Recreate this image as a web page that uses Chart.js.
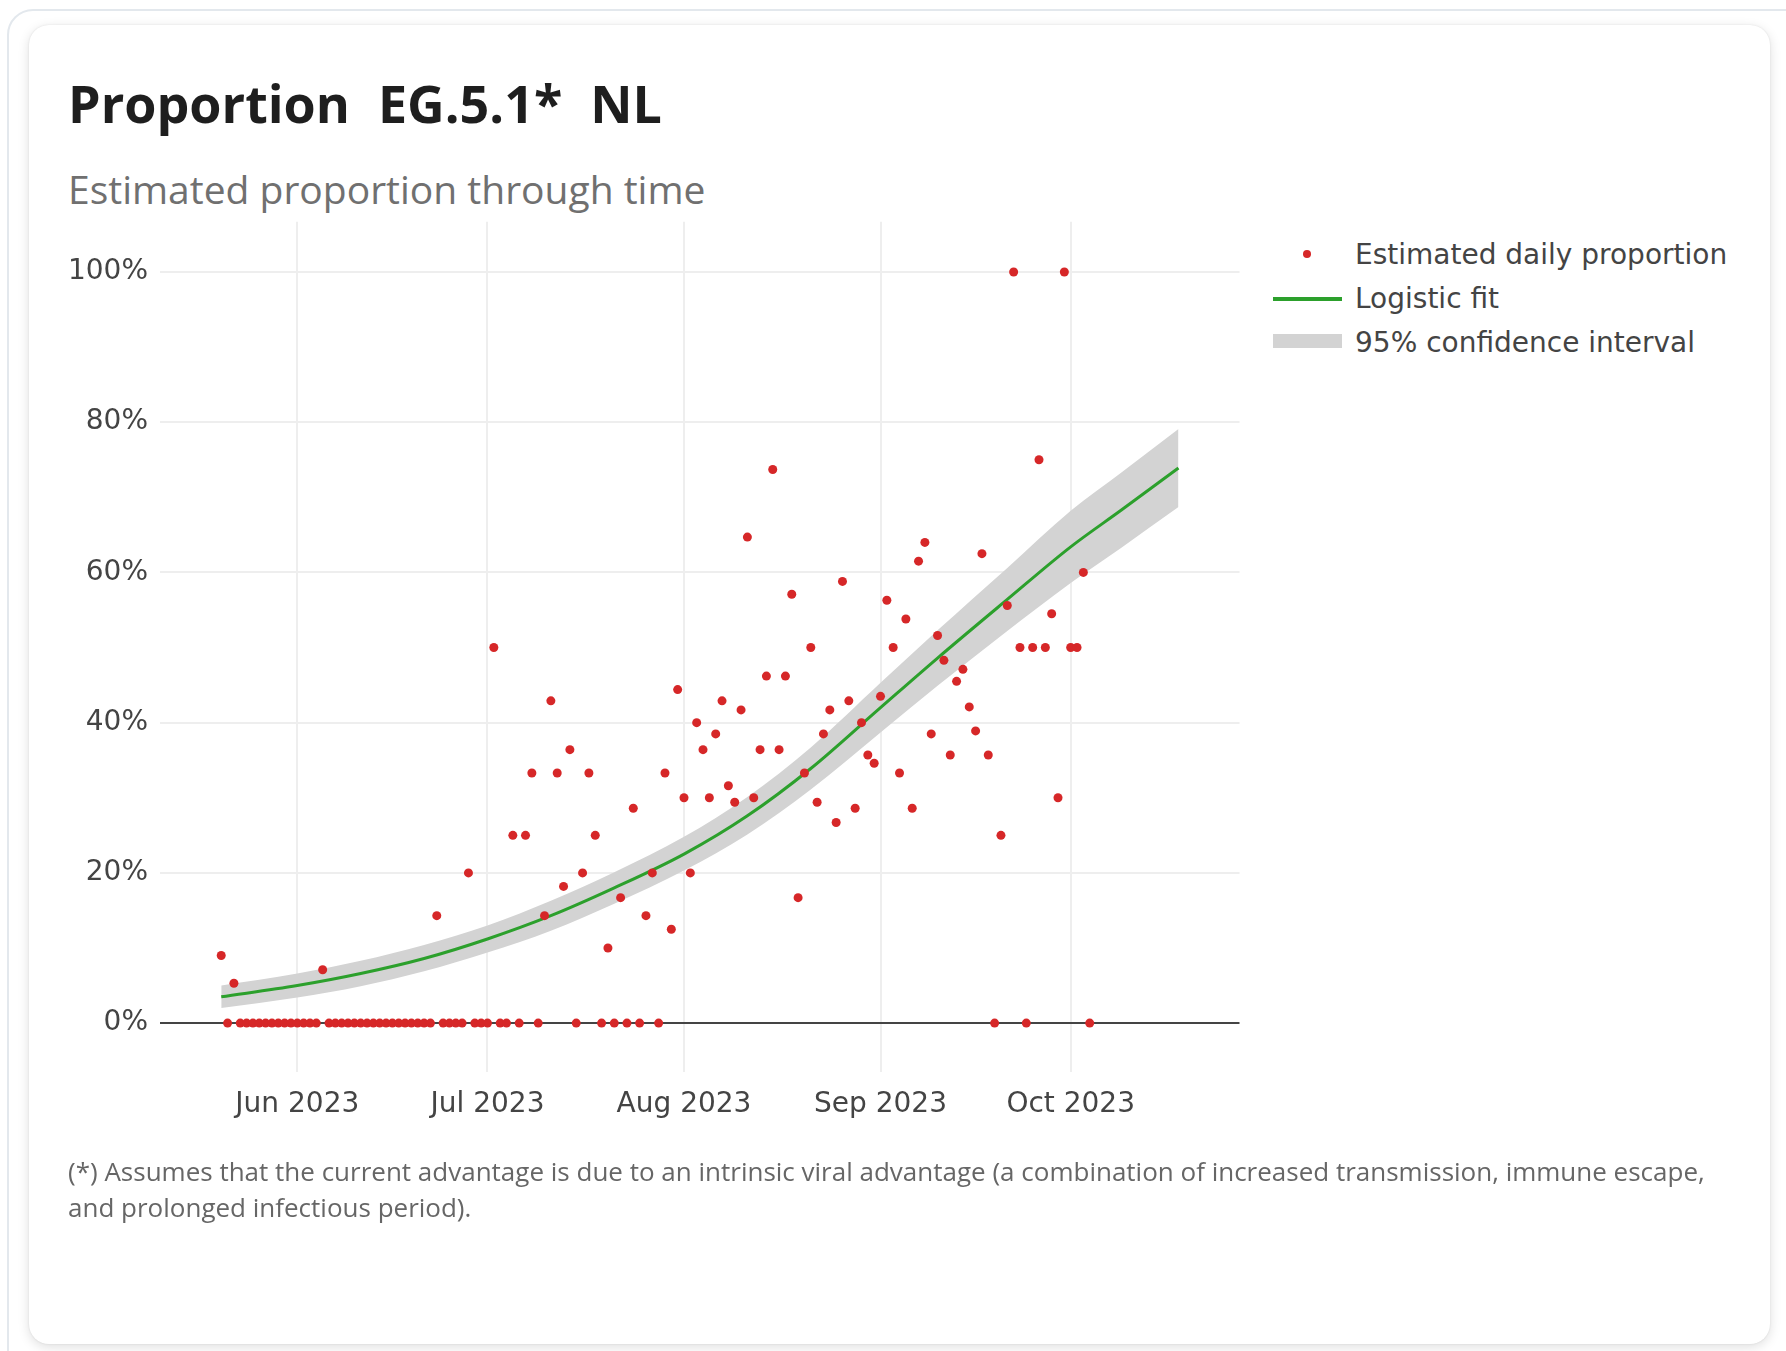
<!DOCTYPE html>
<html>
<head>
<meta charset="utf-8">
<title>Proportion EG.5.1* NL</title>
<script src="https://cdn.jsdelivr.net/npm/chart.js@4.4.0/dist/chart.umd.min.js"></script>
<style>
  html, body { margin: 0; padding: 0; background: #fff; }
  body { width: 1786px; height: 1351px; position: relative; overflow: hidden; font-family: "Open Sans", "Noto Sans", sans-serif; }
  .outer { position: absolute; left: 7px; top: 9px; width: 1830px; height: 1420px; border: 2px solid #e3e8ed; border-radius: 26px; background: #fff; }
  .card { position: absolute; left: 29px; top: 25px; width: 1741px; height: 1319px; border-radius: 20px; background: #fff;
          box-shadow: 0 0 2px rgba(0,0,0,0.10), 0 3px 12px rgba(0,0,0,0.13); }
  .title { position: absolute; left: 68px; top: 77px; font-size: 52px; line-height: 52px; font-weight: 700; color: #1e1e1e; white-space: nowrap; }
  .title span + span { margin-left: 28px; }
  .subtitle { position: absolute; left: 68px; top: 169px; font-size: 39px; line-height: 39px; color: #707070; white-space: nowrap; }
  .note { position: absolute; left: 68px; top: 1153px; font-size: 26px; line-height: 36px; color: #666; white-space: nowrap; }
  #chartBox { position: absolute; left: 0; top: 193px; width: 1260px; height: 967px; }
  .legend { position: absolute; left: 1268px; top: 241px; font-family: "DejaVu Sans", Verdana, sans-serif; font-size: 28px; color: #444; }
  .legend .row { position: relative; height: 44px; line-height: 28px; padding-left: 87px; white-space: nowrap; }
  .legend .mark { position: absolute; left: 5px; }
</style>
</head>
<body>
<div class="outer"></div>
<div class="card"></div>
<div class="title"><span>Proportion</span><span>EG.5.1*</span><span>NL</span></div>
<div class="subtitle">Estimated proportion through time</div>
<div id="chartBox"><canvas id="propChart"></canvas></div>
<div class="legend" id="legend"></div>
<div class="note">(*) Assumes that the current advantage is due to an intrinsic viral advantage (a combination of increased transmission, immune escape,<br>and prolonged infectious period).</div>

<script>
// daily observations, one per day starting at startDate (percent)
const startDate = "2023-05-20";
const dailyProportion = [
  9.0, 0, 5.3, 0, 0, 0, 0, 0, 0, 0, 0, 0, 0, 0, 0,          // May 20 - Jun 3
  0, 7.1, 0, 0, 0, 0, 0, 0, 0, 0, 0, 0, 0, 0, 0, 0,         // Jun 4 - Jun 19
  0, 0, 0, 14.3, 0, 0, 0, 0, 20, 0, 0, 0,                   // Jun 20 - Jul 1
  50, 0, 0, 25, 0, 25, 33.3, 0, 14.3, 42.9, 33.3, 18.2,     // Jul 2 - Jul 13
  36.4, 0, 20, 33.3, 25, 0, 10, 0, 16.7, 0, 28.6, 0,        // Jul 14 - Jul 25
  14.3, 20, 0, 33.3, 12.5, 44.4,                            // Jul 26 - Jul 31
  30, 20, 40, 36.4, 30, 38.5, 42.9, 31.6, 29.4, 41.7,       // Aug 1 - Aug 10
  64.7, 30, 36.4, 46.2, 73.7, 36.4, 46.2, 57.1, 16.7, 33.3, // Aug 11 - Aug 20
  50, 29.4, 38.5, 41.7, 26.7, 58.8, 42.9, 28.6, 40, 35.7,   // Aug 21 - Aug 30
  34.6,                                                     // Aug 31
  43.5, 56.3, 50, 33.3, 53.8, 28.6, 61.5, 64, 38.5, 51.6,   // Sep 1 - Sep 10
  48.3, 35.7, 45.5, 47.1, 42.1, 38.9, 62.5, 35.7, 0, 25,    // Sep 11 - Sep 20
  55.6, 100, 50, 0, 50, 75, 50, 54.5, 30, 100,              // Sep 21 - Sep 30
  50, 50, 60, 0                                             // Oct 1 - Oct 4
];

// logistic fit with its 95% confidence band (percent)
const fitDates = ["2023-05-20", "2023-06-01", "2023-06-11", "2023-06-21", "2023-07-01", "2023-07-11", "2023-07-21", "2023-08-01",
                  "2023-08-11", "2023-08-21", "2023-09-01", "2023-09-10", "2023-09-21", "2023-10-01", "2023-10-09", "2023-10-18"];
const fitValues = [3.5, 5.0, 6.6, 8.6, 11.2, 14.3, 18.0, 22.5, 27.6, 33.9, 42.0, 48.6, 56.4, 63.4, 68.3, 73.9];
const fitLower  = [2.0, 3.4, 4.9, 6.9, 9.4, 12.3, 15.9, 20.3, 25.1, 31.1, 38.7, 44.9, 52.2, 58.6, 63.3, 68.7];
const fitUpper  = [5.0, 6.6, 8.3, 10.4, 13.0, 16.3, 20.1, 24.8, 30.1, 36.7, 45.3, 52.3, 60.6, 68.2, 73.3, 79.1];

const monthTicks = ["2023-06-01", "2023-07-01", "2023-08-01", "2023-09-01", "2023-10-01"];
const monthLabels = ["Jun 2023", "Jul 2023", "Aug 2023", "Sep 2023", "Oct 2023"];
const yTicks = [0, 20, 40, 60, 80, 100];

const DAY = 86400000;
const toDay = s => Date.parse(s + "T00:00:00Z") / DAY;

const firstDay = toDay(startDate);
const dailyPoints = dailyProportion.map((v, i) => ({ x: firstDay + i, y: v }));
const fitPoints = fitDates.map((d, i) => ({ x: toDay(d), y: fitValues[i] }));
const lowerPoints = fitDates.map((d, i) => ({ x: toDay(d), y: fitLower[i] }));
const upperPoints = fitDates.map((d, i) => ({ x: toDay(d), y: fitUpper[i] }));

const tickFont = { family: "'DejaVu Sans', Verdana, sans-serif", size: 28 };

const ctx = document.getElementById("propChart").getContext("2d");
const chart = new Chart(ctx, {
  type: "scatter",
  data: {
    datasets: [
      {
        label: "Estimated daily proportion",
        data: dailyPoints,
        backgroundColor: "#d62728",
        borderWidth: 0,
        pointRadius: 4.5,
        order: 0
      },
      {
        type: "line",
        label: "Logistic fit",
        data: fitPoints,
        borderColor: "#2ca02c",
        borderWidth: 3,
        pointRadius: 0,
        cubicInterpolationMode: "monotone",
        fill: false,
        order: 1
      },
      {
        type: "line",
        label: "95% confidence interval",
        data: upperPoints,
        borderWidth: 0,
        borderColor: "rgba(0,0,0,0)",
        backgroundColor: "#d3d3d3",
        pointRadius: 0,
        cubicInterpolationMode: "monotone",
        fill: "+1",
        order: 2
      },
      {
        type: "line",
        label: "lower",
        data: lowerPoints,
        borderWidth: 0,
        borderColor: "rgba(0,0,0,0)",
        pointRadius: 0,
        cubicInterpolationMode: "monotone",
        fill: false,
        order: 3
      }
    ]
  },
  options: {
    responsive: true,
    maintainAspectRatio: false,
    animation: false,
    layout: { padding: { top: 20, right: 20.5, left: 0, bottom: 0 } },
    plugins: {
      legend: { display: false },
      tooltip: { enabled: false }
    },
    scales: {
      x: {
        type: "linear",
        min: toDay("2023-06-01") - 21.66,
        max: toDay("2023-10-01") + 26.63,
        afterBuildTicks: s => { s.ticks = monthTicks.map(d => ({ value: toDay(d) })); },
        afterFit: s => { s.height = 88; },
        ticks: {
          callback: (v, i) => monthLabels[i],
          autoSkip: false,
          maxRotation: 0,
          padding: 16,
          color: "#444",
          font: tickFont
        },
        grid: { color: "#eeeeee", lineWidth: 2, drawTicks: false },
        border: { display: false }
      },
      y: {
        min: -6.51,
        max: 106.68,
        afterBuildTicks: s => { s.ticks = yTicks.map(v => ({ value: v })); },
        afterFit: s => { s.width = 160; },
        ticks: {
          callback: v => v + "%",
          padding: 12,
          color: "#444",
          font: tickFont
        },
        grid: {
          color: c => (c.tick && c.tick.value === 0 ? "#444444" : "#eeeeee"),
          lineWidth: 2,
          drawTicks: false
        },
        border: { display: false }
      }
    }
  }
});

// html legend built from the chart's own datasets
const legendEl = document.getElementById("legend");
chart.data.datasets.slice(0, 3).forEach((ds, i) => {
  const row = document.createElement("div");
  row.className = "row";
  const mark = document.createElement("span");
  mark.className = "mark";
  if (i === 0) {
    mark.style.cssText = "left:35px;top:9px;width:8px;height:8px;border-radius:50%;background:" + ds.backgroundColor;
  } else if (i === 1) {
    mark.style.cssText = "top:12px;width:69px;height:4px;background:" + ds.borderColor;
  } else {
    mark.style.cssText = "top:5px;width:69px;height:14px;background:" + ds.backgroundColor;
  }
  row.appendChild(mark);
  row.appendChild(document.createTextNode(ds.label));
  legendEl.appendChild(row);
});
</script>
</body>
</html>
